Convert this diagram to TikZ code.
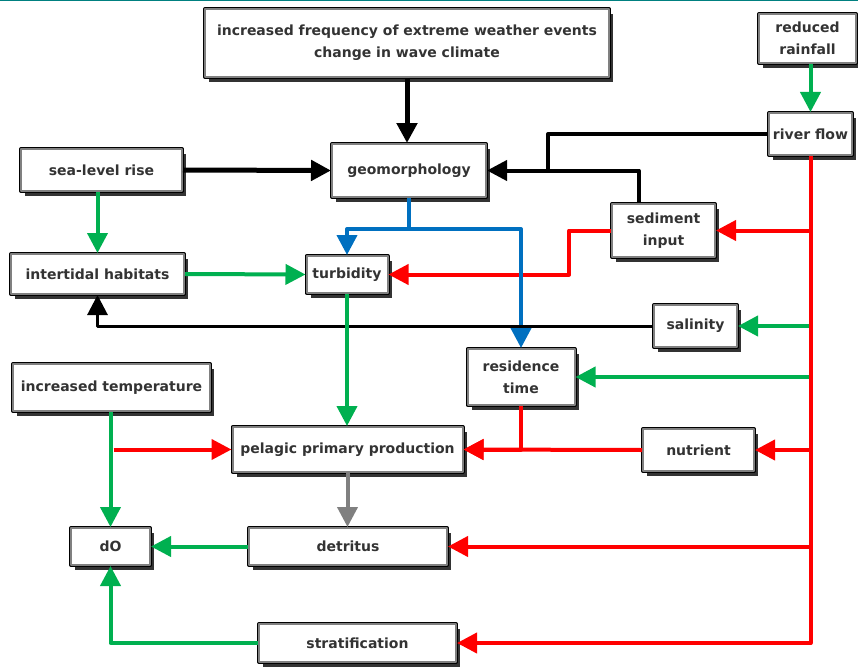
\documentclass[tikz,border=0pt]{standalone}
\usepackage{fontspec}
\setmainfont{DejaVu Sans}
\usetikzlibrary{positioning, arrows.meta, shadows}
\definecolor{txtgray}{HTML}{333333}
\definecolor{arrgreen}{HTML}{00B050}
\definecolor{arrblue}{HTML}{0070C0}
\definecolor{arrred}{HTML}{FF0000}
\definecolor{topteal}{HTML}{008080}

\tikzset{
  factor/.style={drop shadow={shadow xshift=4pt, shadow yshift=-5pt, fill=black!80, opacity=1},
    preaction={draw=black, line width=4pt},
    draw=gray, line width=2pt, fill=white, text=txtgray, align=center, inner sep=2pt,
    font=\bfseries\fontsize{14}{22}\selectfont},
  link/.style={line width=4pt, -{Triangle[length=20pt,width=20pt]}},
  trunk/.style={line width=4pt},
}

\begin{document}
\begin{tikzpicture}[x=1pt, y=-1pt, line join=round]
  \useasboundingbox (0,0) rectangle (858,666);
  \draw[topteal, line width=1.5pt] (0,0.75) -- (858,0.75);

  % factors
  \node[factor, minimum width=404pt, minimum height=68pt] (events) at (407,43) {increased frequency of extreme weather events\\change in wave climate};
  \node[factor, minimum width=97pt, minimum height=49pt] (rainfall) at (807.5,38.5) {reduced\\rainfall};
  \node[factor, minimum width=83pt, minimum height=42pt] (riverflow) at (810.5,134) {river flow};
  \node[factor, minimum width=103pt, minimum height=53pt] (sediment) at (663.5,230.5) {sediment\\input};
  \node[factor, minimum width=154pt, minimum height=53pt] (geomorph) at (409,170.5) {geomorphology};
  \node[factor, minimum width=161pt, minimum height=42pt] (sealevel) at (101.5,170) {sea-level rise};
  \node[factor, minimum width=173pt, minimum height=40pt] (intertidal) at (97.5,274) {intertidal habitats};
  \node[factor, minimum width=81pt, minimum height=37pt] (turbidity) at (347,274.5) {turbidity};
  \node[factor, minimum width=83pt, minimum height=42pt] (salinity) at (695.5,326) {salinity};
  \node[factor, minimum width=107pt, minimum height=56pt] (residence) at (521,377) {residence\\time};
  \node[factor, minimum width=111pt, minimum height=42pt] (nutrient) at (698.5,450) {nutrient};
  \node[factor, minimum width=197pt, minimum height=47pt] (temperature) at (111.5,387.5) {increased temperature};
  \node[factor, minimum width=230pt, minimum height=45pt] (pelagic) at (347.5,449.5) {pelagic primary production};
  \node[factor, minimum width=79pt, minimum height=37pt] (dO) at (110.5,546.5) {dO};
  \node[factor, minimum width=198pt, minimum height=37pt] (detritus) at (348,546.5) {detritus};
  \node[factor, minimum width=197pt, minimum height=38pt] (strat) at (357.5,643) {stratification};

  % physical drivers
  \draw[link, line width=5pt] (events.south) -- (events.south |- geomorph.north);
  \draw[link, line width=5pt] (sealevel.east) -- (geomorph.west);
  \coordinate (riverjoin) at (548,170);
  \draw[trunk] (riverflow.west) -| (riverjoin);
  \draw[link] ([xshift=-25pt]sediment.north) |- (geomorph.east);
  \draw[link, arrgreen] (rainfall.south -| riverflow.north) -- (riverflow.north);

  % river flow branches
  \draw[link, arrred] (riverflow.south |- sediment.east) -- (sediment.east);
  \draw[link, arrgreen] (riverflow.south |- salinity.east) -- (salinity.east);
  \draw[link, arrgreen] (riverflow.south |- residence.east) -- (residence.east);
  \draw[link, arrred] (riverflow.south |- nutrient.east) -- (nutrient.east);
  \draw[link, arrred] (riverflow.south |- detritus.east) -- (detritus.east);
  \draw[link, arrred] (riverflow.south) |- (strat.east);

  % geomorphology outputs
  \draw[link, arrred] (sediment.west) -- ++(-42,0) |- (turbidity.east);
  \coordinate (geosplit) at (409,229);
  \draw[trunk, arrblue] (geomorph.south) -- (geosplit);
  \draw[link, arrblue] (geosplit) -| (turbidity.north);
  \draw[link, arrblue] (geosplit) -| (residence.north);

  % habitats and water column
  \draw[link, arrgreen] (sealevel.south -| intertidal.north) -- (intertidal.north);
  \draw[link, arrgreen] (intertidal.east) -- (turbidity.west);
  \draw[link, line width=3pt] (salinity.west) -| (intertidal.south);
  \draw[link, arrgreen] (turbidity.south) -- (turbidity.south |- pelagic.north);
  \draw[link, arrred] (residence.south) |- (pelagic.east);
  \draw[link, arrred] (nutrient.west) -- (pelagic.east);
  \draw[link, arrgreen] (temperature.south -| dO.north) -- (dO.north);
  \draw[link, arrred] ([xshift=3pt]dO.north |- pelagic.west) -- (pelagic.west);
  \draw[link, gray] (pelagic.south) -- (pelagic.south |- detritus.north);
  \draw[link, arrgreen] (detritus.west) -- (dO.east);
  \draw[link, arrgreen] (strat.west) -| (dO.south);
\end{tikzpicture}
\end{document}
